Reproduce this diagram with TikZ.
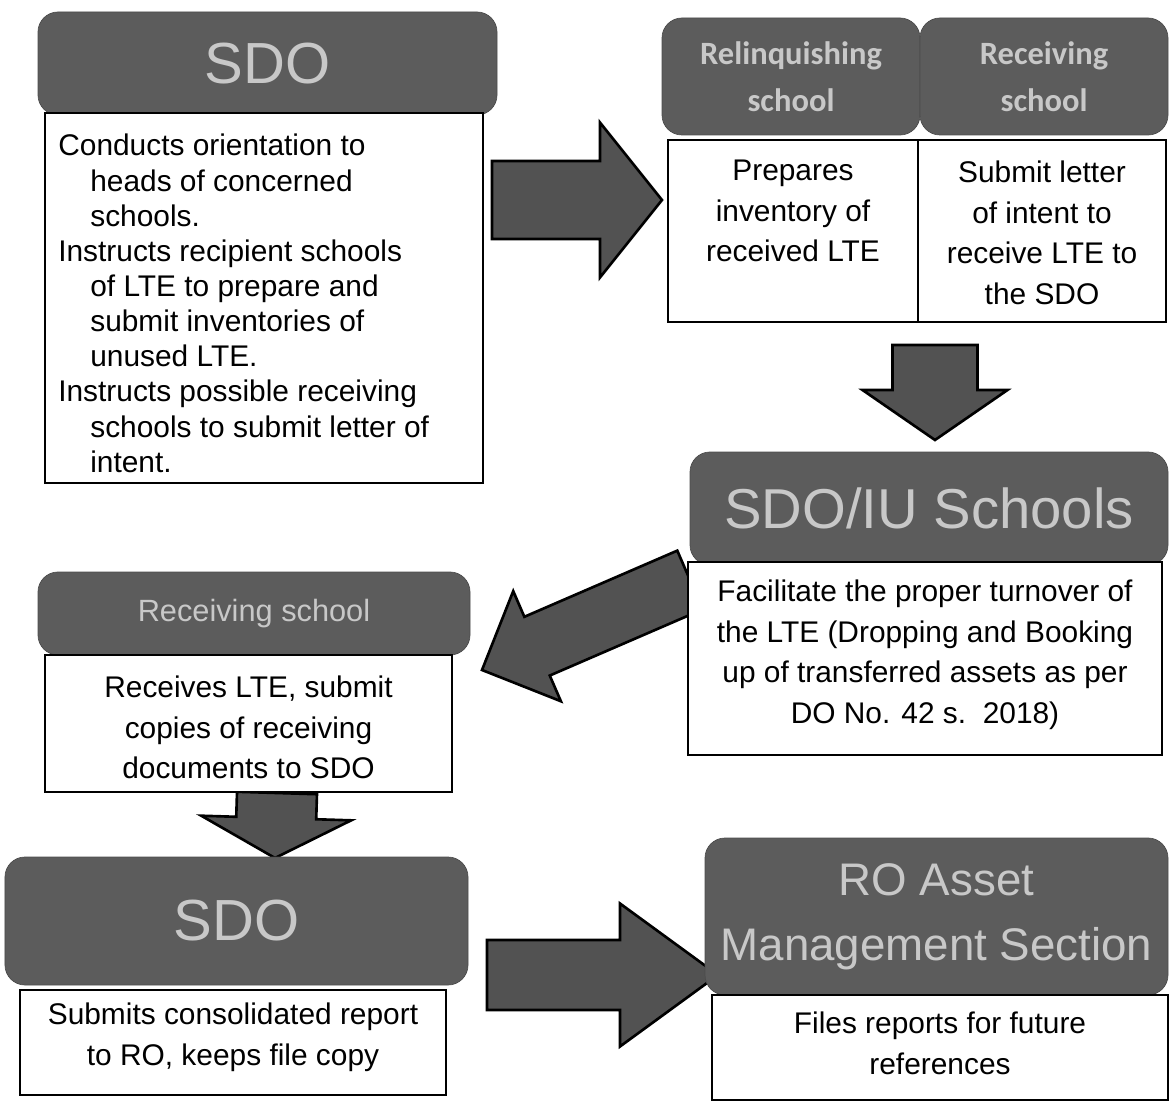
\documentclass[tikz,border=0pt]{standalone}
\usepackage{fontspec}
\setmainfont{Liberation Sans}
\newfontfamily\calfont{Carlito}
\usetikzlibrary{positioning,calc}
\definecolor{HeadGray}{RGB}{92,92,92}
\definecolor{HeadText}{RGB}{200,200,200}
\definecolor{ArrowGray}{RGB}{82,82,82}

% block arrow: start, tip, half shaft, half head, head length
\newcommand{\blockarrow}[5]{%
  \coordinate (hb) at ($(#2)!#5!(#1)$);
  \fill[bigarrow] ($(#1)!#3!90:(#2)$) -- ($(hb)!#3!90:(#2)$) -- ($(hb)!#4!90:(#2)$) -- (#2)
    -- ($(hb)!#4!-90:(#2)$) -- ($(hb)!#3!-90:(#2)$) -- ($(#1)!#3!-90:(#2)$) -- cycle;}

\begin{document}
\begin{tikzpicture}[
  hdr/.style={draw=black!70, fill=HeadGray, rounded corners=0.4cm, text=HeadText, align=center},
  box/.style={draw, line width=1pt, fill=white},
  txt/.style={align=center, font=\fontsize{17}{23}\selectfont},
  bigarrow/.style={fill=ArrowGray, draw=black, line width=1.5pt, line join=miter}]
  \useasboundingbox (0,0) rectangle (23.4,-22.06);

  % arrows first, the boxes cover their tails
  \coordinate (a1s) at (9.84,-4.0);   \coordinate (a1t) at (13.24,-4.0);
  \coordinate (a2s) at (18.7,-6.9);   \coordinate (a2t) at (18.7,-8.8);
  \coordinate (a3s) at (13.8,-11.6);  \coordinate (a3t) at (9.64,-13.4);
  \coordinate (a4s) at (5.54,-15.86); \coordinate (a4t) at (5.5,-17.16);
  \coordinate (a5s) at (9.74,-19.5);  \coordinate (a5t) at (14.36,-19.5);
  \blockarrow{a1s}{a1t}{0.78cm}{1.55cm}{1.24cm}
  \blockarrow{a2s}{a2t}{0.85cm}{1.45cm}{1.0cm}
  \blockarrow{a3s}{a3t}{0.64cm}{1.2cm}{1.2cm}
  \blockarrow{a4s}{a4t}{0.8cm}{1.5cm}{0.8cm}
  \blockarrow{a5s}{a5t}{0.7cm}{1.43cm}{1.96cm}

  % top left
  \node[hdr, minimum width=9.18cm, minimum height=2.06cm, font=\fontsize{33}{40}\selectfont] (sdo) at (5.35,-1.27) {SDO};
  \node[box, minimum width=8.76cm, minimum height=7.40cm] (sdobox) at (5.28,-5.96) {};
  \node[align=left, font=\fontsize{17}{20}\selectfont, below right=0.32cm and 0.16cm of sdobox.north west] (sdotext)
    {Conducts orientation to\\\hspace*{0.64cm}heads of concerned\\\hspace*{0.64cm}schools.\\
     Instructs recipient schools\\\hspace*{0.64cm}of LTE to prepare and\\\hspace*{0.64cm}submit inventories of\\\hspace*{0.64cm}unused LTE.\\
     Instructs possible receiving\\\hspace*{0.64cm}schools to submit letter of\\\hspace*{0.64cm}intent.};

  % top right
  \node[hdr, minimum width=5.16cm, minimum height=2.34cm, font=\calfont\bfseries\fontsize{18.5}{27}\selectfont] (rel) at (15.82,-1.53) {Relinquishing\\school};
  \node[hdr, minimum width=4.96cm, minimum height=2.34cm, font=\calfont\bfseries\fontsize{18.5}{27}\selectfont] (rec) at (20.88,-1.53) {Receiving\\school};
  \node[box, minimum width=5.0cm, minimum height=3.64cm] (relbox) at (15.86,-4.62) {};
  \node[box, minimum width=4.96cm, minimum height=3.64cm] (recbox) at (20.84,-4.62) {};
  \node[txt, below=0.3cm of relbox.north] (reltext) {Prepares\\inventory of\\received LTE};
  \node[txt, below=0.32cm of recbox.north] (rectext) {Submit letter\\of intent to\\receive LTE to\\the SDO};

  % middle right
  \node[hdr, minimum width=9.56cm, minimum height=2.26cm, font=\fontsize{32}{38}\selectfont] (iu) at (18.58,-10.17) {SDO/IU Schools};
  \node[box, minimum width=9.48cm, minimum height=3.86cm] (iubox) at (18.5,-13.17) {};
  \node[txt, below=0.26cm of iubox.north] (iutext)
    {Facilitate the proper turnover of\\the LTE (Dropping and Booking\\up of transferred assets as per\\DO No. 42 s.\ \ 2018)};

  % middle left
  \node[hdr, minimum width=8.64cm, minimum height=1.66cm, font=\fontsize{17.5}{20}\selectfont] (rcv) at (5.08,-12.27) {Receiving school};
  \node[box, minimum width=8.14cm, minimum height=2.74cm] (rcvbox) at (4.97,-14.47) {};
  \node[txt, below=0.32cm of rcvbox.north] (rcvtext) {Receives LTE, submit\\copies of receiving\\documents to SDO};

  % bottom
  \node[hdr, minimum width=9.26cm, minimum height=2.56cm, font=\fontsize{33}{40}\selectfont] (sdob) at (4.73,-18.42) {SDO};
  \node[box, minimum width=8.52cm, minimum height=2.10cm] (sdobbox) at (4.66,-20.85) {};
  \node[txt, below=0.16cm of sdobbox.north] (sdobtext) {Submits consolidated report\\to RO, keeps file copy};
  \node[hdr, minimum width=9.26cm, minimum height=3.14cm, font=\fontsize{26}{37}\selectfont] (ro) at (18.73,-18.33) {RO Asset\\Management Section};
  \node[box, minimum width=9.12cm, minimum height=2.10cm] (robox) at (18.8,-20.95) {};
  \node[txt, below=0.24cm of robox.north] (rotext) {Files reports for future\\references};
\end{tikzpicture}
\end{document}
